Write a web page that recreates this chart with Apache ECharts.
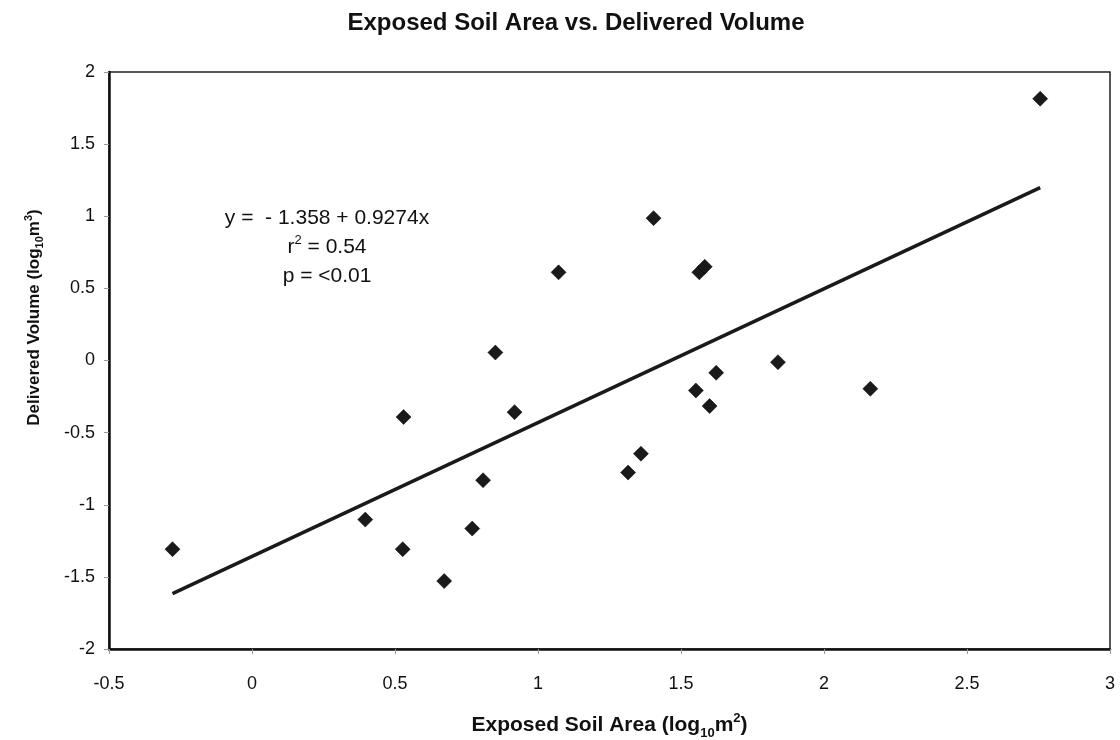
<!DOCTYPE html>
<html>
<head>
<meta charset="utf-8">
<script src="https://cdn.jsdelivr.net/npm/echarts@6/dist/echarts.min.js"></script>
<style>
  html, body { margin: 0; padding: 0; background: #fff; }
  #chart { width: 1120px; height: 740px; }
</style>
</head>
<body>
<div id="chart"></div>
<script>
// ---- Data ----
const exposedSoilArea = [-0.278, 0.396, 0.527, 0.530, 0.672, 0.770, 0.808, 0.851, 0.918, 1.072,
                         1.315, 1.360, 1.404, 1.552, 1.564, 1.583, 1.600, 1.623, 1.839, 2.162, 2.756];
const deliveredVolume = [-1.308, -1.103, -1.308, -0.392, -1.529, -1.165, -0.830, 0.055, -0.358, 0.611,
                         -0.777, -0.646, 0.987, -0.208, 0.611, 0.650, -0.316, -0.085, -0.012, -0.196, 1.815];
const fitIntercept = -1.358;
const fitSlope = 0.9274;
const xTicks = { min: -0.5, max: 3, step: 0.5 };
const yTicks = { min: -2, max: 2, step: 0.5 };
const titleText = 'Exposed Soil Area vs. Delivered Volume';
const statLines = ['y =  - 1.358 + 0.9274x', '{t|r}{sup|2}{t| = 0.54}', 'p = <0.01'];

// ---- Build series ----
const points = exposedSoilArea.map((x, i) => [x, deliveredVolume[i]]);
const xMin = Math.min(...exposedSoilArea), xMax = Math.max(...exposedSoilArea);
const fitLine = [[xMin, fitIntercept + fitSlope * xMin], [xMax, fitIntercept + fitSlope * xMax]];

const FONT = '"Liberation Sans", Arial, sans-serif';
const chart = echarts.init(document.getElementById('chart'), null, { renderer: 'canvas' });

const subRich = {
  t: { fontFamily: FONT, fontWeight: 'bold', fontSize: 21, color: '#111', lineHeight: 26, verticalAlign: 'middle' },
  sub: { fontFamily: FONT, fontWeight: 'bold', fontSize: 13, color: '#111', lineHeight: 26, verticalAlign: 'bottom', padding: [0, 0, -2, 0] },
  sup: { fontFamily: FONT, fontWeight: 'bold', fontSize: 13, color: '#111', lineHeight: 26, verticalAlign: 'top' }
};
const subRichY = {
  t: { fontFamily: FONT, fontWeight: 'bold', fontSize: 17, color: '#111', lineHeight: 22, verticalAlign: 'middle' },
  sub: { fontFamily: FONT, fontWeight: 'bold', fontSize: 11, color: '#111', lineHeight: 22, verticalAlign: 'bottom' },
  sup: { fontFamily: FONT, fontWeight: 'bold', fontSize: 11, color: '#111', lineHeight: 22, verticalAlign: 'top' }
};

const option = {
  backgroundColor: '#fff',
  animation: false,
  title: {
    text: titleText,
    left: 571,
    top: 6,
    textAlign: 'center',
    textStyle: { fontFamily: FONT, fontWeight: 'bold', fontSize: 24, color: '#111' }
  },
  grid: {
    left: 109, right: 10, top: 72, bottom: 91,
    outerBoundsMode: 'none',
    containLabel: false,
    show: true, borderColor: '#222', borderWidth: 1.5, backgroundColor: '#fff'
  },
  xAxis: {
    type: 'value',
    min: xTicks.min, max: xTicks.max, interval: xTicks.step,
    name: '{t|Exposed Soil Area (log}{sub|10}{t|m}{sup|2}{t|)}',
    nameLocation: 'middle',
    nameGap: 63,
    nameTextStyle: { rich: subRich },
    axisLine: { show: true, onZero: false, lineStyle: { color: '#111', width: 2.5 } },
    axisTick: { show: true, length: 5, lineStyle: { color: '#999', width: 1 } },
    axisLabel: { fontFamily: FONT, fontSize: 18, color: '#111', margin: 26 },
    splitLine: { show: false }
  },
  yAxis: {
    type: 'value',
    min: yTicks.min, max: yTicks.max, interval: yTicks.step,
    name: '{t|Delivered Volume (log}{sub|10}{t|m}{sup|3}{t|)}',
    nameLocation: 'middle',
    nameGap: 64,
    nameRotate: 90,
    nameTextStyle: { rich: subRichY, padding: [0, 0, 0, 86] },
    axisLine: { show: true, onZero: false, lineStyle: { color: '#111', width: 2.5 } },
    axisTick: { show: true, length: 5, lineStyle: { color: '#999', width: 1 } },
    axisLabel: { fontFamily: FONT, fontSize: 18, color: '#111', margin: 14 },
    splitLine: { show: false }
  },
  graphic: statLines.map((txt, i) => ({
    type: 'text',
    x: 327,
    y: 218 + i * 29,
    style: {
      text: txt,
      x: 0, y: 0,
      align: 'center',
      verticalAlign: 'middle',
      fontFamily: FONT,
      fontSize: 21,
      fill: '#111',
      rich: {
        t: { fontFamily: FONT, fontSize: 21, fill: '#111', color: '#111', lineHeight: 26, verticalAlign: 'middle' },
        sup: { fontFamily: FONT, fontSize: 13, fill: '#111', color: '#111', lineHeight: 26, verticalAlign: 'top' }
      }
    }
  })),
  series: [
    {
      type: 'line',
      data: fitLine,
      symbol: 'none',
      lineStyle: { color: '#1a1a1a', width: 3.5 },
      z: 2
    },
    {
      type: 'scatter',
      data: points,
      symbol: 'diamond',
      symbolSize: 15,
      itemStyle: { color: '#1a1a1a', opacity: 1, borderColor: '#000', borderWidth: 0.5 },
      z: 3
    }
  ]
};
chart.setOption(option);
</script>
</body>
</html>
